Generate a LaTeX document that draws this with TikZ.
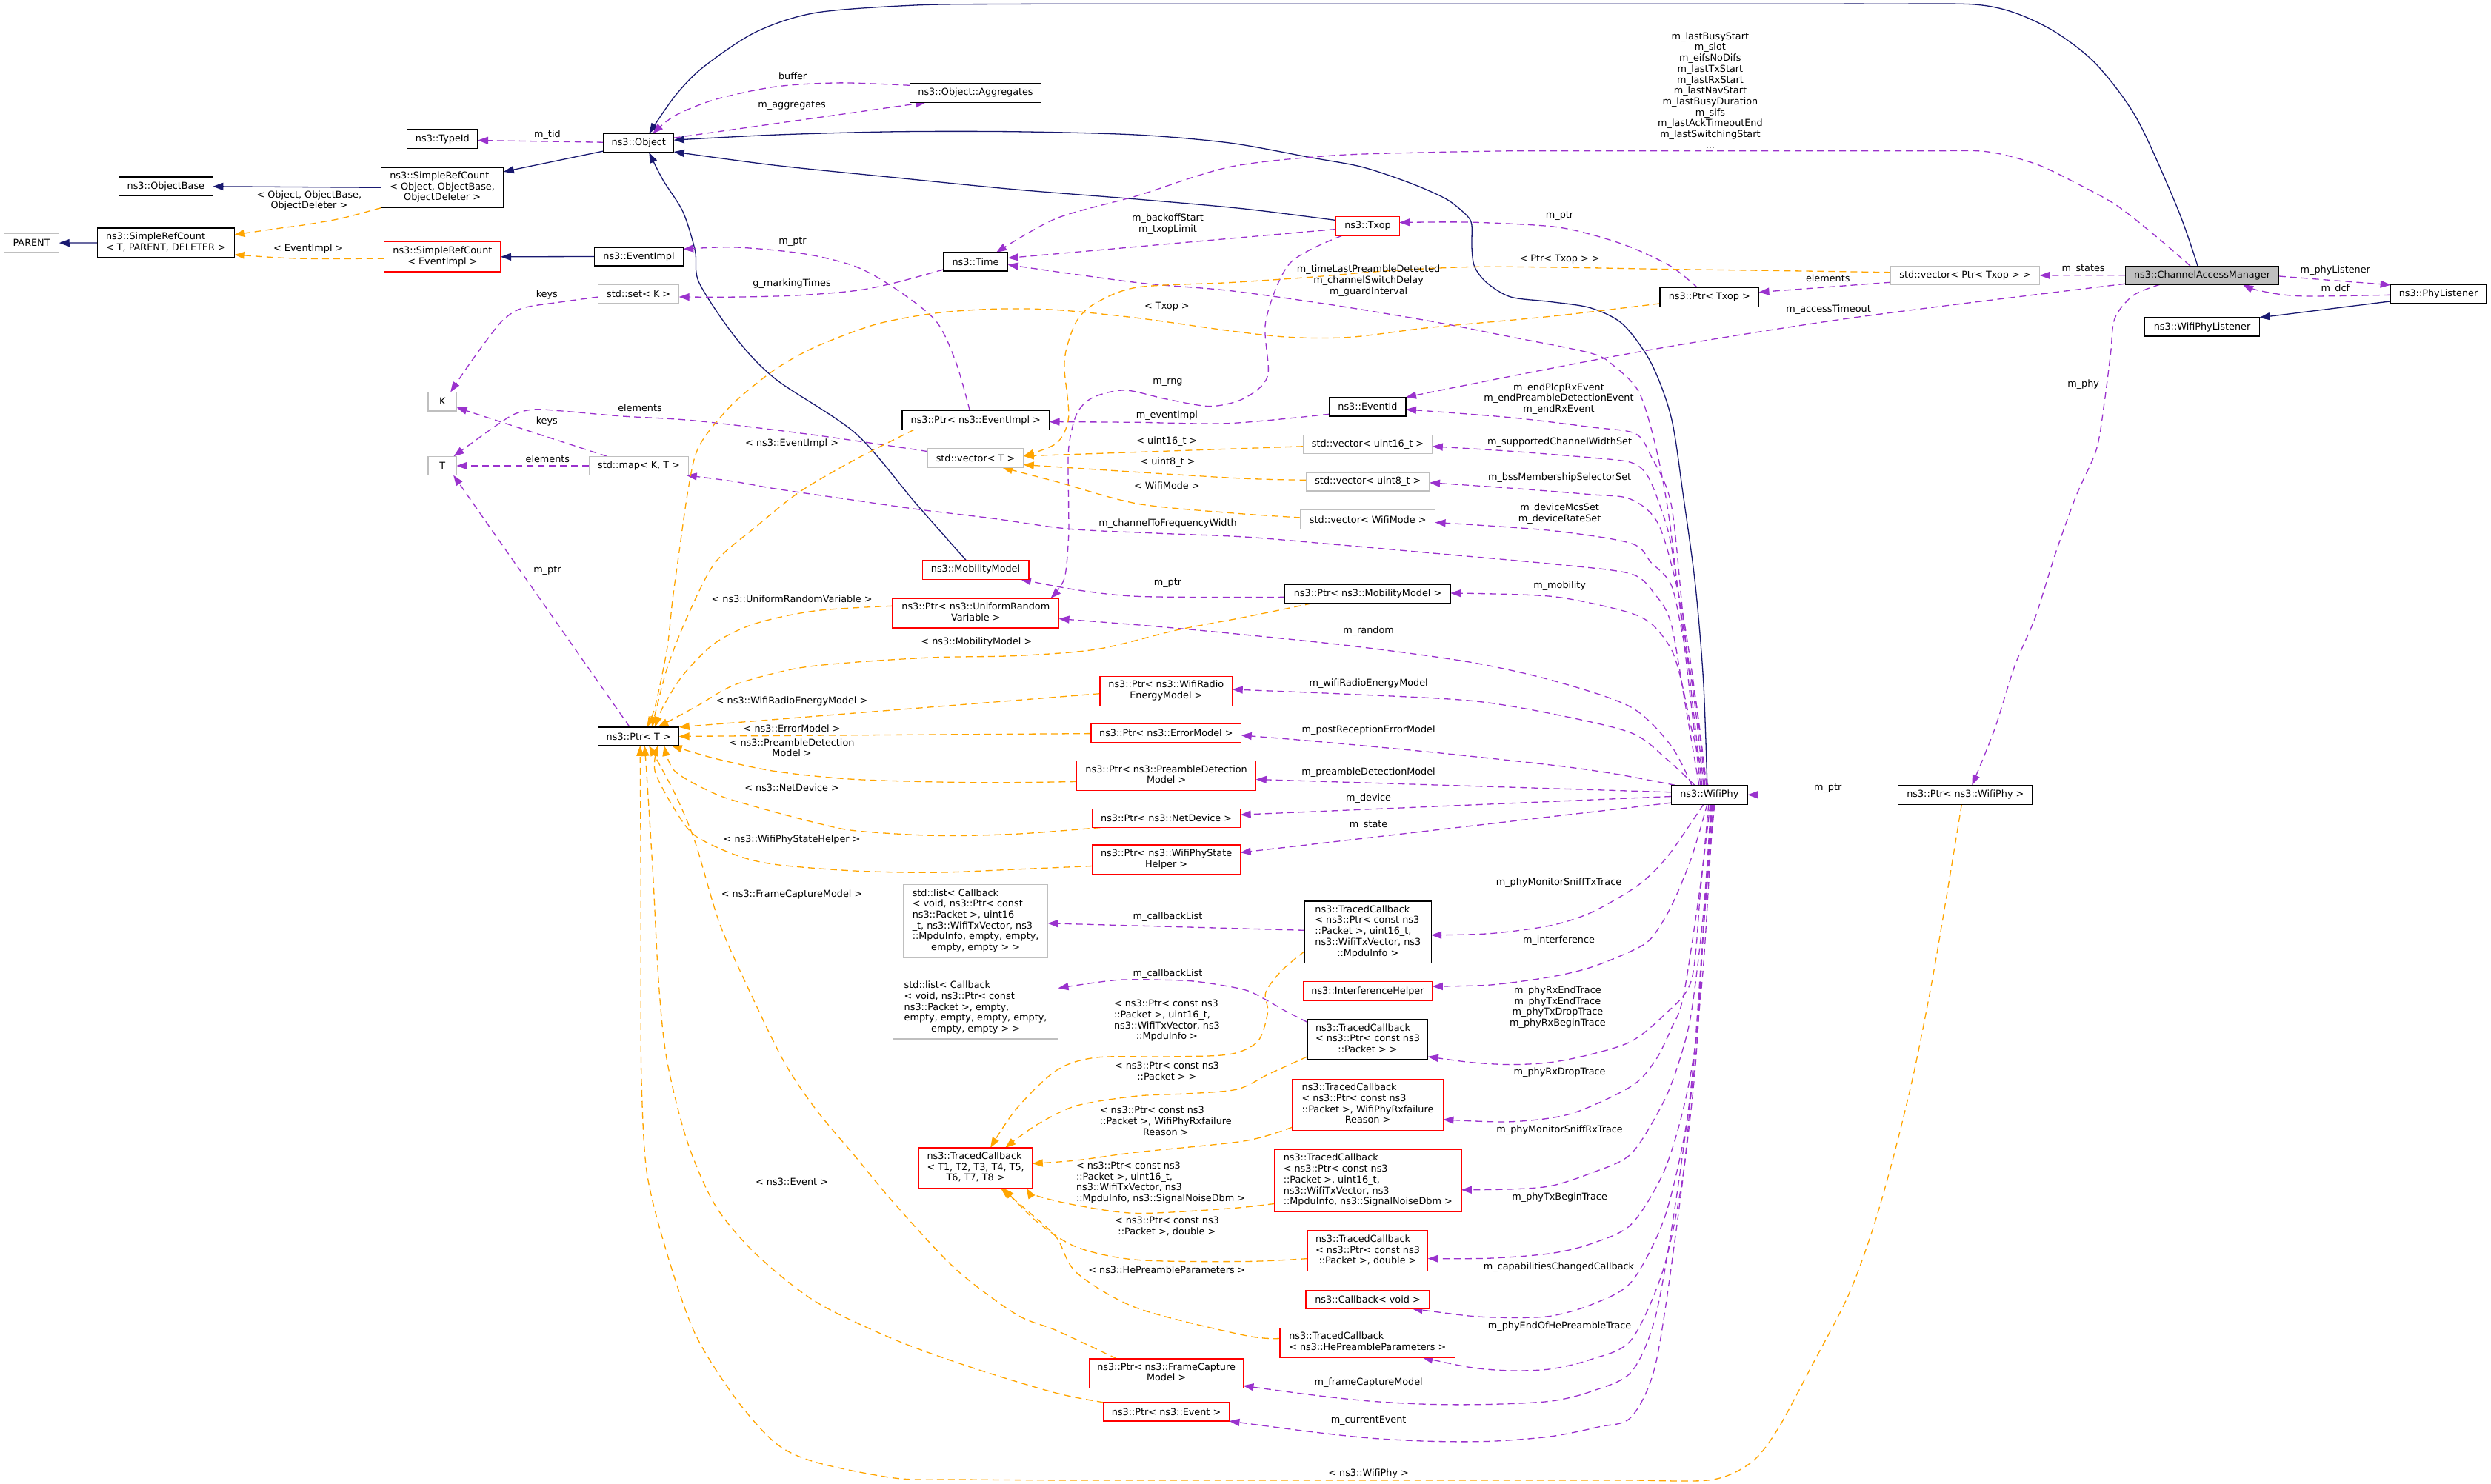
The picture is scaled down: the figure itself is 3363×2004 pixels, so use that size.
\documentclass[tikz,border=0pt]{standalone}
\usepackage{fontspec}
\setmainfont{DejaVu Sans}
\usetikzlibrary{arrows.meta,calc}
\pgfdeclarelayer{back}
\pgfdeclarelayer{edges}
\pgfsetlayers{back,edges,main}
\definecolor{inhc}{HTML}{191970}
\definecolor{usec}{HTML}{9A32CD}
\definecolor{tmplc}{HTML}{FFA500}
\definecolor{redc}{HTML}{FF0000}
\definecolor{grayc}{HTML}{BFBFBF}
\definecolor{camfill}{HTML}{BFBFBF}
\newcommand{\mlt}[1]{\begin{tabular}{@{}l@{}}#1\end{tabular}}
\newcommand{\lastc}[1]{\multicolumn{1}{@{}c@{}}{#1}}
\tikzset{
  dg/.style={font=\fontsize{12.8}{14.7}\selectfont, inner sep=0pt, outer sep=0pt},
  bx/.style 2 args={dg, line width=1.3pt, fill=white, minimum width=#1pt, minimum height=#2pt},
  bk/.style={draw=black},
  rd/.style={draw=redc},
  gr/.style={draw=grayc},
  lbl/.style={dg, align=center},
  arrowtip/.style={-{Triangle[length=14pt,width=10pt]}},
  inhe/.style={draw=inhc, line width=1.3pt, arrowtip},
  usage/.style={draw=usec, line width=1.3pt, dash pattern=on 9pt off 6pt, arrowtip},
  tmpl/.style={draw=tmplc, line width=1.3pt, dash pattern=on 9pt off 6pt, arrowtip},
}
\begin{document}
\begin{tikzpicture}[x=1pt,y=-1pt]
\useasboundingbox (0,0) rectangle (3363,2004);
\begin{pgfonlayer}{back}
\fill[white] (0,0) rectangle (3363,2004);
\end{pgfonlayer}

% ---------------- nodes ----------------
\node[bx={74.3}{25.6}, gr] (parent) at (42.6,328.1) {PARENT};
\node[bx={185.4}{39.9}, bk] (srcT) at (223.9,327.9) {\mlt{ns3::SimpleRefCount\\\lastc{< T, PARENT, DELETER >}}};
\node[bx={126.8}{25.5}, bk] (objbase) at (223.9,251.8) {ns3::ObjectBase};
\node[bx={165.4}{54.7}, bk] (srcObj) at (597.1,253.3) {\mlt{ns3::SimpleRefCount\\< Object, ObjectBase,\\\lastc{ObjectDeleter >}}};
\node[bx={157.2}{40.3}, rd] (srcEv) at (597.4,346.8) {\mlt{ns3::SimpleRefCount\\\lastc{< EventImpl >}}};
\node[bx={95.4}{26}, bk] (typeid) at (597.4,187.8) {ns3::TypeId};
\node[bx={94.9}{25.6}, bk] (obj) at (862.3,193.2) {ns3::Object};
\node[bx={119.4}{25.2}, bk] (evimpl) at (862.5,346.5) {ns3::EventImpl};
\node[bx={109}{25.6}, gr] (setK) at (862.2,397) {std::set< K >};
\node[bx={38.5}{25.6}, gr] (K) at (597.2,542.3) {K};
\node[bx={38.5}{25.6}, gr] (T) at (597.2,629) {T};
\node[bx={134.4}{25.6}, gr] (mapKT) at (862.5,629) {std::map< K, T >};
\node[bx={109}{25.1}, bk] (ptrT) at (862.2,994.4) {ns3::Ptr< T >};
\node[bx={177.3}{26}, bk] (aggr) at (1317,125.3) {ns3::Object::Aggregates};
\node[bx={87.3}{25.1}, bk] (time) at (1317,353.5) {ns3::Time};
\node[bx={198.4}{25.6}, bk] (ptrEv) at (1317.3,567.5) {ns3::Ptr< ns3::EventImpl >};
\node[bx={129.5}{25.6}, gr] (vecT) at (1317,618.6) {std::vector< T >};
\node[bx={143.7}{26}, rd] (mob) at (1317,769.3) {ns3::MobilityModel};
\node[bx={224.5}{39.9}, rd] (ptrURV) at (1317.3,827.9) {\mlt{ns3::Ptr< ns3::UniformRandom\\\lastc{Variable >}}};
\node[bx={194.6}{98.9}, gr] (list1) at (1317.1,1243.8) {\mlt{std::list< Callback\\< void, ns3::Ptr< const\\ ns3::Packet >, uint16\\\_t, ns3::WifiTxVector, ns3\\::MpduInfo, empty, empty,\\\lastc{empty, empty > >}}};
\node[bx={222.8}{83.3}, gr] (list2) at (1317.1,1361.3) {\mlt{std::list< Callback\\< void, ns3::Ptr< const\\ ns3::Packet >, empty,\\ empty, empty, empty, empty,\\\lastc{empty, empty > >}}};
\node[bx={153.4}{54.7}, rd] (tcT) at (1317.1,1577.3) {\mlt{ns3::TracedCallback\\< T1, T2, T3, T4, T5,\\\lastc{T6, T7, T8 >}}};
\node[bx={178.9}{39.9}, rd] (ptrRad) at (1574.3,933.3) {\mlt{ns3::Ptr< ns3::WifiRadio\\\lastc{EnergyModel >}}};
\node[bx={202.8}{25.2}, rd] (ptrErr) at (1574.3,989.6) {ns3::Ptr< ns3::ErrorModel >};
\node[bx={242.4}{39.9}, rd] (ptrPre) at (1574.6,1047.7) {\mlt{ns3::Ptr< ns3::PreambleDetection\\\lastc{Model >}}};
\node[bx={200.1}{25.1}, rd] (ptrNet) at (1574.6,1105) {ns3::Ptr< ns3::NetDevice >};
\node[bx={200.1}{39.9}, rd] (ptrSH) at (1574.6,1160.9) {\mlt{ns3::Ptr< ns3::WifiPhyState\\\lastc{Helper >}}};
\node[bx={207.6}{39.4}, rd] (ptrFC) at (1574.6,1854.6) {\mlt{ns3::Ptr< ns3::FrameCapture\\\lastc{Model >}}};
\node[bx={169.7}{25.2}, rd] (ptrEvent) at (1574.6,1906.4) {ns3::Ptr< ns3::Event >};
\node[bx={85.6}{25.6}, rd] (txop) at (1846.5,305.5) {ns3::Txop};
\node[bx={103}{25.6}, bk] (eventid) at (1846.5,549.2) {ns3::EventId};
\node[bx={174.6}{25.2}, gr] (vec16) at (1846.5,600.2) {std::vector< uint16\_t >};
\node[bx={166.5}{25.2}, gr] (vec8) at (1846.8,650.5) {std::vector< uint8\_t >};
\node[bx={181.6}{25.6}, gr] (vecMode) at (1846.7,701.4) {std::vector< WifiMode >};
\node[bx={223.4}{25.1}, bk] (ptrMob) at (1846.5,802.3) {ns3::Ptr< ns3::MobilityModel >};
\node[bx={170.7}{83.7}, bk] (tcSTx) at (1846.8,1258.7) {\mlt{ns3::TracedCallback\\< ns3::Ptr< const ns3\\::Packet >, uint16\_t,\\ ns3::WifiTxVector, ns3\\\lastc{::MpduInfo >}}};
\node[bx={174.6}{25.6}, rd] (interf) at (1846.5,1338.5) {ns3::InterferenceHelper};
\node[bx={162.6}{54.2}, bk] (tcPkt) at (1846.5,1404) {\mlt{ns3::TracedCallback\\< ns3::Ptr< const ns3\\\lastc{::Packet > >}}};
\node[bx={203.8}{68.5}, rd] (tcRxF) at (1846.5,1491.9) {\mlt{ns3::TracedCallback\\< ns3::Ptr< const ns3\\::Packet >, WifiPhyRxfailure\\\lastc{Reason >}}};
\node[bx={252.1}{83.7}, rd] (tcSRx) at (1846.8,1594.4) {\mlt{ns3::TracedCallback\\< ns3::Ptr< const ns3\\::Packet >, uint16\_t,\\ ns3::WifiTxVector, ns3\\\lastc{::MpduInfo, ns3::SignalNoiseDbm >}}};
\node[bx={162.6}{54.7}, rd] (tcDbl) at (1846.5,1689.2) {\mlt{ns3::TracedCallback\\< ns3::Ptr< const ns3\\\lastc{::Packet >, double >}}};
\node[bx={167}{25.1}, rd] (cbVoid) at (1846.5,1754.7) {ns3::Callback< void >};
\node[bx={236.9}{39.9}, rd] (tcHe) at (1846.3,1813.2) {\mlt{ns3::TracedCallback\\\lastc{< ns3::HePreambleParameters >}}};
\node[bx={133.4}{25.6}, bk] (ptrTxop) at (2307.8,401.4) {ns3::Ptr< Txop >};
\node[bx={103}{26}, bk] (wifiphy) at (2307.8,1073.3) {ns3::WifiPhy};
\node[bx={201.4}{24.7}, gr] (vecPTxop) at (2653,371.9) {std::vector< Ptr< Txop > >};
\node[bx={181.1}{26}, bk] (ptrWifiPhy) at (2653.3,1073.3) {ns3::Ptr< ns3::WifiPhy >};
\node[bx={207.5}{25.1}, bk, fill=camfill] (cam) at (2973,371.7) {ns3::ChannelAccessManager};
\node[bx={128.8}{25.1}, bk] (phyL) at (3292,397.3) {ns3::PhyListener};
\node[bx={154.7}{25.2}, bk] (wphyL) at (2973,441.5) {ns3::WifiPhyListener};

% ---------------- edges ----------------
\begin{pgfonlayer}{edges}
% inheritance
\draw[inhe] (srcObj.west) -- (objbase.east);
\draw[inhe] (srcT.west) -- (parent.east);
\draw[inhe] ($(obj.south west)+(0,-2)$) -- ($(srcObj.north east)+(0,6)$);
\draw[inhe] (evimpl.west) -- (srcEv.east);
\draw[inhe] plot[smooth] coordinates {($(cam.north)+(-6,0)$) (2940,282) (2885,160.5) (2830,86.7) (2775,43.4) (2720,17.3) (2665,6) (2550,5.2) (2400,5.2) (2250,5.2) (2100,5.2) (1950,5.2) (1800,5.2) (1650,5.2) (1500,5.2) (1360,5.5) (1236,7) (1101,17.3) (1020,43.4) (949,91) (911,130) ($(obj.north)+(14,0)$)};
\draw[inhe] plot[smooth] coordinates {($(txop.west)+(0,-8)$) (1680,282) (1534.7,269) (1372,256) (1210,240) (1046.8,223.3) ($(obj.south east)+(0,-1)$)};
\draw[inhe] plot[smooth] coordinates {($(wifiphy.north)+(-3,0)$) (2299.7,920) (2288.8,790) (2272.6,670) (2256.3,564) (2229,490) (2191,438) (2148,416) (2094,407.6) (2039.5,401) (2007,381.6) (1990.7,360) (1987,334) (1986.9,303.6) (1979.8,290.6) (1952.7,268.9) (1903.9,247.2) (1838.9,225.5) (1768.4,212.5) (1660,193) (1534.7,182.1) (1372,177.8) (1209.5,177.8) (1046.8,182.1) ($(obj.east)+(0,-4)$)};
\draw[inhe] plot[smooth] coordinates {($(mob.north)+(-13,0)$) (1236.6,680) (1155.3,585.4) (1046.8,511.7) (992.6,455.3) (943.8,381.6) (938.4,338.3) (922,286) (895,243) ($(obj.south)+(14,0)$)};
\draw[inhe] ($(phyL.south west)+(0,-3)$) -- (wphyL.north east);

% usage
\draw[usage] ($(obj.west)+(0,-1)$) -- ($(typeid.east)+(0,1.7)$);
\draw[usage] plot[smooth] coordinates {($(aggr.west)+(0,-10)$) (1133.6,111.9) (1046.8,117.1) (965.5,134.4) (911.3,156.1) ($(obj.north)+(19,0)$)};
\draw[usage] ($(obj.east)+(0,-7)$) -- ($(aggr.south)+(-67,0)$);
\draw[usage] plot[smooth] coordinates {($(ptrEv.north)+(-8,0)$) (1290.8,490) (1263.7,433.7) (1209.5,390.3) (1155.3,360) (1084.8,342.6) (992.6,333.9) ($(evimpl.east)+(0,-10)$)};
\draw[usage] plot[smooth] coordinates {($(time.south west)+(0,-2)$) (1209.5,381.6) (1155.3,392.5) (1073.9,399) (992.6,401.1) ($(setK.east)+(0,4)$)};
\draw[usage] plot[smooth] coordinates {($(setK.west)+(0,4)$) (758.9,407.6) (704.7,416.3) (677.6,433.7) (650.5,468.4) (628.8,498.7) ($(K.north)+(11,0)$)};
\draw[usage] ($(mapKT.north west)+(24,0)$) -- ($(K.east)+(0,8)$);
\draw[usage] (mapKT.west) -- (T.east);
\draw[usage] plot[smooth] coordinates {($(vecT.west)+(0,-9)$) (1101,587.6) (938.4,568.1) (840,562) (759,555) (721,552.9) (694,559.4) (666.8,576.8) (639.7,596.3) ($(T.north east)+(-4,0)$)};
\draw[usage] ($(ptrT.north)+(-12,0)$) -- ($(T.south)+(15,0)$);
\draw[usage] ($(txop.west)+(0,4)$) -- ($(time.east)+(0,-5)$);
\draw[usage] plot[smooth] coordinates {($(txop.south west)+(8,0)$) (1741.3,355.6) (1708.8,433.7) (1711.5,507.4) (1680,537.7) (1634,548.6) (1575,539) (1518.5,526.9) (1475,537) (1453.4,559.4) (1442.6,607) (1442.6,680) (1442.6,725) (1437,781) ($(ptrURV.north east)+(-11,0)$)};
\draw[usage] plot[smooth] coordinates {($(cam.north)+(-16,0)$) (2912.8,320.9) (2857.8,277.5) (2802.7,247.2) (2747.7,221.2) (2681.6,204.7) (2600,203.8) (2450,203.8) (2300,203.8) (2150,203.8) (2039.5,203.8) (1920,206) (1795.5,210.3) (1660,225.5) (1534.7,264.5) (1426.3,294.9) ($(time.north)+(28,0)$)};
\draw[usage] plot[smooth] coordinates {($(wifiphy.north)+(-12,0)$) (2283,950) (2268,820) (2252,690) (2234.6,600) (2212.9,530) (2180,495) (2148,477) (2040,455) (1931,433.7) (1800,412) (1660,392.5) (1534.7,381.6) ($(time.east)+(0,4)$)};
\draw[usage] plot[smooth] coordinates {($(wifiphy.north)+(-10,0)$) (2285,950) (2272,830) (2256,680) (2229,616) (2207.5,585.4) (2148,576.8) (2039.5,563.8) ($(eventid.east)+(0,3.7)$)};
\draw[usage] plot[smooth] coordinates {($(wifiphy.north)+(-8,0)$) (2288,950) (2270,830) (2255,730) (2240,680) (2223.8,641.8) (2202,624.5) (2148,618) (2039.5,609.3) ($(vec16.east)+(0,2.6)$)};
\draw[usage] plot[smooth] coordinates {($(wifiphy.north)+(-6,0)$) (2290,950) (2270,820) (2240,710) (2202,674.3) (2148,667.8) (2039.5,659.2) ($(vec8.east)+(0,1.3)$)};
\draw[usage] plot[smooth] coordinates {($(wifiphy.north)+(-4,0)$) (2290,950) (2272,860) (2256.3,790.1) (2229.2,759.7) (2202,733.7) (2093.7,716.4) ($(vecMode.east)+(0,4.1)$)};
\draw[usage] plot[smooth] coordinates {($(wifiphy.north)+(-2,0)$) (2285,990) (2270,920) (2256.3,876.8) (2229.2,842.1) (2191.2,824.8) (2093.7,805.3) ($(ptrMob.east)+(0,-1.3)$)};
\draw[usage] plot[smooth] coordinates {($(wifiphy.north)+(-14,0)$) (2275,950) (2256,842) (2234.6,803) (2202,775) (2100,762) (1931,746.7) (1800,735) (1680,725) (1560,720) (1442.6,714.2) (1340,700) (1242,688.2) (1150,675) (1046.8,660) (990,650) ($(mapKT.south east)+(-3,0)$)};
\draw[usage] plot[smooth] coordinates {($(wifiphy.north)+(-24,0)$) (2256,1007) (2202,955) (2100,920) (1985,894.2) (1822.6,872) (1660,855.1) (1550,845) ($(ptrURV.east)+(0,7.7)$)};
\draw[usage] plot[smooth] coordinates {($(wifiphy.north)+(-20,0)$) (2250,1025) (2202,989.6) (2093.7,963.6) (1985.3,946.2) (1822.6,937.5) ($(ptrRad.east)+(0,-2.3)$)};
\draw[usage] plot[smooth] coordinates {($(wifiphy.north west)+(5,0)$) (2180,1045) (2093.7,1033) (1931,1015.6) (1768.4,1000.4) ($(ptrErr.east)+(0,3.4)$)};
\draw[usage] ($(wifiphy.west)+(0,-3.5)$) -- ($(ptrPre.east)+(0,4.8)$);
\draw[usage] ($(wifiphy.west)+(0,2.2)$) -- ($(ptrNet.east)+(0,-4.8)$);
\draw[usage] ($(wifiphy.south west)+(0,-2.2)$) -- ($(ptrSH.east)+(0,-9.6)$);
\draw[usage] plot[smooth] coordinates {($(wifiphy.south)+(-8,0)$) (2256.3,1150) (2229.2,1180.4) (2202,1202) (2147.9,1232.4) (2093.7,1249.8) (2012.4,1260.6) ($(tcSTx.east)+(0,4.1)$)};
\draw[usage] plot[smooth] coordinates {($(wifiphy.south)+(-3,0)$) (2283.4,1158.7) (2256.3,1223.8) (2229.2,1267.1) (2202,1284.5) (2148,1306.2) (2093.7,1319.2) (2012.4,1330) ($(interf.east)+(0,-6.5)$)};
\draw[usage] plot[smooth] coordinates {($(wifiphy.south)+(-1,0)$) (2296,1200) (2283.4,1324) (2245.5,1371.7) (2202,1406.4) (2148,1423.7) (2093.7,1434.6) (2039.5,1437.6) (1985.3,1434.6) ($(tcPkt.south east)+(0,-4.3)$)};
\draw[usage] plot[smooth] coordinates {($(wifiphy.south)+(1,0)$) (2295,1200) (2272.6,1345.7) (2256.3,1389) (2234.6,1432.4) (2202,1467.1) (2120.8,1504) (2039.5,1514.8) ($(tcRxF.east)+(0,19.9)$)};
\draw[usage] plot[smooth] coordinates {($(wifiphy.south)+(2,0)$) (2300,1230) (2283.4,1367.4) (2267.2,1432.4) (2245.5,1488.8) (2202,1558.2) (2147.9,1584.2) (2093.7,1601.5) (2039.5,1605.9) ($(tcSRx.east)+(0,12.4)$)};
\draw[usage] plot[smooth] coordinates {($(wifiphy.south)+(3,0)$) (2300,1250) (2290,1400) (2272.6,1497.5) (2245.5,1584.2) (2202,1653.6) (2147.9,1679.6) (2093.7,1692.6) (2012.4,1699.1) ($(tcDbl.east)+(0,10.4)$)};
\draw[usage] plot[smooth] coordinates {($(wifiphy.south)+(4,0)$) (2300,1250) (2290,1420) (2272.6,1540.8) (2245.5,1649.2) (2202,1731.6) (2147.9,1762) (2093.7,1777.2) (2039.5,1779.4) (1985.3,1777.2) ($(cbVoid.south)+(60,0)$)};
\draw[usage] plot[smooth] coordinates {($(wifiphy.south)+(5,0)$) (2300,1300) (2285,1450) (2272.6,1584.2) (2245.5,1714.3) (2202,1809.7) (2147.9,1835.7) (2093.7,1848.7) (2039.5,1850.9) (1985.3,1846.6) ($(tcHe.south)+(74,0)$)};
\draw[usage] plot[smooth] coordinates {($(wifiphy.south)+(6,0)$) (2300,1250) (2285,1450) (2261.7,1627.6) (2234.6,1779.4) (2202,1853.1) (2147.9,1879.1) (2093.7,1892.1) (2012.4,1896.4) (1931,1896.4) (1849.7,1892.1) (1768.4,1883.4) ($(ptrFC.east)+(0,16.7)$)};
\draw[usage] plot[smooth] coordinates {($(wifiphy.south)+(7,0)$) (2300,1250) (2288,1450) (2261.7,1670.9) (2234.6,1844.4) (2202,1913.8) (2158.7,1926.8) (2093.7,1939.8) (2012.4,1946.3) (1931,1946.3) (1849.7,1942) (1768.4,1933.3) (ptrEvent.south east)};
\draw[usage] (ptrWifiPhy.west) -- (wifiphy.east);
\draw[usage] plot[smooth] coordinates {($(ptrMob.west)+(0,4)$) (1680,806.6) (1534.7,805.3) (1453.4,796.6) ($(mob.south east)+(-11,0)$)};
\draw[usage] plot[smooth] coordinates {($(eventid.west)+(0,10)$) (1660,571.6) (1534.7,570.3) ($(ptrEv.east)+(0,2)$)};
\draw[usage] plot[smooth] coordinates {($(ptrTxop.north)+(-16,0)$) (2256.3,360) (2202,334) (2147.9,316.6) (2093.7,305.7) (1985.3,300.1) ($(txop.east)+(0,-5)$)};
\draw[usage] ($(vecPTxop.south west)+(0,-3)$) -- ($(ptrTxop.east)+(0,-6.8)$);
\draw[usage] (cam.west) -- (vecPTxop.east);
\draw[usage] ($(cam.east)+(0,1.3)$) -- (phyL.north west);
\draw[usage] plot[smooth] coordinates {($(phyL.west)+(0,1)$) (3105.4,399.8) (3050.4,392.5) ($(cam.south)+(55,0)$)};
\draw[usage] plot[smooth] coordinates {($(cam.south west)+(0,-1)$) (2500,429.3) (2202,477) (eventid.north east)};
\draw[usage] plot[smooth] coordinates {($(cam.south)+(-57,0)$) (2879.8,399) (2855,430) (2849.5,477) (2841.2,542.1) (2830.2,607.1) (2802.7,670) (2775.2,746.7) (2747.7,833.5) (2720.2,898.5) (2692.6,985.3) ($(ptrWifiPhy.north)+(9,0)$)};
\draw[usage] ($(tcSTx.west)+(0,-2.4)$) -- ($(list1.east)+(0,3)$);
\draw[usage] plot[smooth] coordinates {($(tcPkt.north west)+(0,3.5)$) (1735,1365) (1708.8,1350) (1680,1336.5) (1620,1326) (1578,1323.5) (1507.6,1323.5) ($(list2.east)+(0,-26.9)$)};

% template
\draw[tmpl] plot[smooth] coordinates {(srcObj.south west) (460.8,294.9) (412,303.6) (379.5,307.9) ($(srcT.east)+(0,-11)$)};
\draw[tmpl] plot[smooth] coordinates {($(srcEv.west)+(0,2.3)$) (433.7,349.5) (379.5,348.2) ($(srcT.east)+(0,16)$)};
\draw[tmpl] plot[smooth] coordinates {($(vecPTxop.west)+(0,-4.2)$) (2400,365.5) (2250,363.5) (2100,361) (1985,360.5) (1870,366) (1760,375) (1660,381.6) (1534.7,388.1) (1478,410) (1453.4,433.7) (1440,470) (1437,498.7) (1442.6,563.8) (1426.3,598.5) ($(vecT.east)+(0,-3)$)};
\draw[tmpl] ($(vec16.west)+(0,2.6)$) -- ($(vecT.east)+(0,-2.8)$);
\draw[tmpl] plot[smooth] coordinates {($(vec8.west)+(0,-2.2)$) (1680,646.2) (1534.7,637.5) ($(vecT.east)+(0,9)$)};
\draw[tmpl] plot[smooth] coordinates {($(vecMode.west)+(0,-2.4)$) (1660,692.5) (1534.7,680) (1426.3,650.5) ($(vecT.south)+(36,0)$)};
\draw[tmpl] plot[smooth] coordinates {($(ptrTxop.west)+(0,8.5)$) (2093.7,427.2) (1931,442.3) (1822.6,455.4) (1741.3,455.4) (1660,446.7) (1534.7,429.3) (1426.3,418.5) (1345,417.2) (1263.7,422.8) (1182.4,438) (1101,468.4) (1046.8,498.7) (992.6,542.1) (954.7,585.4) (938.4,615.8) (927.6,670) (916.7,746.7) (908,810) (900.5,876.8) (884.2,954.9) ($(ptrT.north)+(11,0)$)};
\draw[tmpl] plot[smooth] coordinates {($(ptrEv.south west)+(15.8,0)$) (1155.3,620.1) (1079.4,664.3) (1019.7,712) (965.5,759.7) (927.6,833.5) (900.5,902.9) ($(ptrT.north)+(18,0)$)};
\draw[tmpl] plot[smooth] coordinates {($(ptrURV.west)+(0,-9.6)$) (1101,824.8) (1019.7,842.1) (965.5,868.2) (922.2,911.5) (895,954.9) ($(ptrT.north)+(22,0)$)};
\draw[tmpl] plot[smooth] coordinates {($(ptrMob.south west)+(36,0)$) (1680,833.5) (1589,850.8) (1480.5,876.8) (1372,885.5) (1263.7,887.7) (1155.3,894.2) (1073.9,902.9) (992.6,924.5) (938.4,954.9) ($(ptrT.north)+(26,0)$)};
\draw[tmpl] ($(ptrRad.west)+(0,3.4)$) -- (ptrT.north east);
\draw[tmpl] ($(ptrErr.west)+(0,1)$) -- (ptrT.east);
\draw[tmpl] plot[smooth] coordinates {($(ptrPre.west)+(0,7.8)$) (1317.9,1056.8) (1155.3,1052.5) (1046.8,1041.6) (965.5,1024.3) ($(ptrT.south east)+(-10,0)$)};
\draw[tmpl] plot[smooth] coordinates {($(ptrNet.south west)+(11,0)$) (1372,1126.2) (1263.7,1128.4) (1155.3,1121.9) (1101,1111) (1019.7,1089.3) (965.5,1072) (911.3,1041.6) ($(ptrT.south east)+(-20,0)$)};
\draw[tmpl] plot[smooth] coordinates {($(ptrSH.west)+(0,8.6)$) (1372,1173.9) (1263.7,1178.2) (1155.3,1176.1) (1046.8,1167.4) (992.6,1154.4) (938.4,1128.4) (911.3,1093.7) (884.2,1041.6) ($(ptrT.south)+(26,0)$)};
\draw[tmpl] plot[smooth] coordinates {($(ptrFC.north west)+(37,0)$) (1426.3,1796.7) (1372.1,1775) (1290.8,1714.3) (1209.5,1627.6) (1155.3,1562.5) (1101,1497.5) (1057.7,1432.4) (1008.9,1332) (970.9,1245.4) (938.4,1137) (911.3,1072) ($(ptrT.south)+(14,0)$)};
\draw[tmpl] plot[smooth] coordinates {(ptrEvent.north west) (1426.3,1881.3) (1317.9,1848.7) (1209.5,1809.7) (1101,1757.7) (1019.7,1692.6) (965.5,1627.6) (927.6,1540.8) (900.5,1432.4) (889.6,1332) (881.5,1180.4) (873.4,1050.3) ($(ptrT.south)+(8,0)$)};
\draw[tmpl] plot[smooth] coordinates {($(ptrWifiPhy.south)+(-5,0)$) (2628,1210) (2607.3,1330.5) (2582.6,1454.1) (2555,1566.9) (2527.5,1662.3) (2495,1750) (2446,1844.4) (2400,1930) (2364.7,1974.5) (2310.5,1998.4) (2200,1999) (2050,1999) (1900,1999) (1750,1999) (1600,1999) (1450,1999) (1300,1998) (1209.5,1996.2) (1101,1974.5) (1046.8,1948.5) (992.6,1887.8) (938.4,1801) (900.5,1692.6) (873.4,1584.2) (866,1460) (865.2,1324) (865.2,1180) ($(ptrT.south)+(2,0)$)};
\draw[tmpl] plot[smooth] coordinates {($(tcSTx.west)+(0,25.8)$) (1730.5,1310.5) (1708.8,1340) (1711.5,1367.4) (1698,1406.4) (1660,1423.7) (1580,1427) (1480.5,1428) (1426.3,1445.4) (1372,1497.5) ($(tcT.north)+(20,0)$)};
\draw[tmpl] plot[smooth] coordinates {($(tcPkt.west)+(0,22.8)$) (1714.2,1449.8) (1670,1471) (1600,1477) (1534.7,1480.1) (1453.4,1493.1) (1399.2,1519.2) ($(tcT.north)+(40,0)$)};
\draw[tmpl] plot[smooth] coordinates {($(tcRxF.south west)+(0,-4)$) (1680,1540.8) (1534.7,1556) (1453.4,1566.9) ($(tcT.east)+(0,-6)$)};
\draw[tmpl] plot[smooth] coordinates {($(tcSRx.west)+(0,31)$) (1660,1631.9) (1534.7,1638.4) (1453.4,1627.6) (1399.2,1614.6) ($(tcT.south east)+(-8,0)$)};
\draw[tmpl] plot[smooth] coordinates {($(tcDbl.west)+(0,10.4)$) (1680,1703.5) (1534.7,1701.3) (1453.4,1684) (1399.2,1649.2) ($(tcT.south)+(38,0)$)};
\draw[tmpl] plot[smooth] coordinates {($(tcHe.west)+(0,-5.7)$) (1680,1803.2) (1534.7,1766.3) (1453.4,1718.6) (1426.3,1671) (1388.4,1636.2) ($(tcT.south)+(34,0)$)};
\end{pgfonlayer}

% ---------------- labels ----------------
\node[lbl] (l01) at (738.9,182.1) {m\_tid};
\node[lbl] (l02) at (417.4,271.7) {\mlt{< Object, ObjectBase,\\\lastc{ObjectDeleter >}}};
\node[lbl] (l03) at (416.3,336.1) {< EventImpl >};
\node[lbl] (l04) at (738.3,398.1) {keys};
\node[lbl] (l05) at (738.3,568.5) {keys};
\node[lbl] (l06) at (739.4,620.1) {elements};
\node[lbl] (l07) at (864,550.8) {elements};
\node[lbl] (l08) at (738.9,771.0) {m\_ptr};
\node[lbl] (l09) at (1070.1,103.2) {buffer};
\node[lbl] (l10) at (1069.1,142.7) {m\_aggregates};
\node[lbl] (l11) at (1070.1,326.6) {m\_ptr};
\node[lbl] (l12) at (1069.1,383.4) {g\_markingTimes};
\node[lbl] (l13) at (1576.5,302.7) {m\_backoffStart\\m\_txopLimit};
\node[lbl] (l14) at (1575.4,414.6) {< Txop >};
\node[lbl] (l15) at (1576.5,516.1) {m\_rng};
\node[lbl] (l16) at (1575.4,560.7) {m\_eventImpl};
\node[lbl] (l17) at (1069.1,598.5) {< ns3::EventImpl >};
\node[lbl] (l18) at (1575.4,596.3) {< uint16\_t >};
\node[lbl] (l19) at (1576.5,624.5) {< uint8\_t >};
\node[lbl] (l20) at (1575.4,656.1) {< WifiMode >};
\node[lbl] (l21) at (2308.9,121.9) {m\_lastBusyStart\\m\_slot\\m\_eifsNoDifs\\m\_lastTxStart\\m\_lastRxStart\\m\_lastNavStart\\m\_lastBusyDuration\\m\_sifs\\m\_lastAckTimeoutEnd\\m\_lastSwitchingStart\\...};
\node[lbl] (l22) at (2105.6,291.9) {m\_ptr};
\node[lbl] (l23) at (2105.6,350.4) {< Ptr< Txop > >};
\node[lbl] (l24) at (1847.6,379.3) {m\_timeLastPreambleDetected\\m\_channelSwitchDelay\\m\_guardInterval};
\node[lbl] (l25) at (2467.7,375.6) {elements};
\node[lbl] (l26) at (2468.6,418.5) {m\_accessTimeout};
\node[lbl] (l27) at (2104.5,538.4) {m\_endPlcpRxEvent\\m\_endPreambleDetectionEvent\\m\_endRxEvent};
\node[lbl] (l28) at (2105.6,596.7) {m\_supportedChannelWidthSet};
\node[lbl] (l29) at (2105.6,644.9) {m\_bssMembershipSelectorSet};
\node[lbl] (l30) at (2812.6,363.8) {m\_states};
\node[lbl] (l31) at (3152.8,364.7) {m\_phyListener};
\node[lbl] (l32) at (3152.8,390.3) {m\_dcf};
\node[lbl] (l33) at (2812.6,519.5) {m\_phy};
\node[lbl] (l34) at (1576.5,707.3) {m\_channelToFrequencyWidth};
\node[lbl] (l35) at (1576.5,787.9) {m\_ptr};
\node[lbl] (l36) at (1069.1,808.3) {< ns3::UniformRandomVariable >};
\node[lbl] (l37) at (1318.4,867.3) {< ns3::MobilityModel >};
\node[lbl] (l38) at (1069.1,947.1) {< ns3::WifiRadioEnergyModel >};
\node[lbl] (l39) at (1069.1,984.0) {< ns3::ErrorModel >};
\node[lbl] (l40) at (1069.1,1011.7) {\mlt{< ns3::PreambleDetection\\\lastc{Model >}}};
\node[lbl] (l41) at (1069.1,1064.2) {< ns3::NetDevice >};
\node[lbl] (l42) at (1069.1,1134.4) {< ns3::WifiPhyStateHelper >};
\node[lbl] (l43) at (1069.1,1208.2) {< ns3::FrameCaptureModel >};
\node[lbl] (l44) at (1576.5,1238.1) {m\_callbackList};
\node[lbl] (l45) at (1576.5,1315.3) {m\_callbackList};
\node[lbl] (l46) at (2105.6,693.4) {m\_deviceMcsSet\\m\_deviceRateSet};
\node[lbl] (l47) at (2105.6,791) {m\_mobility};
\node[lbl] (l48) at (1847.6,852.1) {m\_random};
\node[lbl] (l49) at (1847.6,923.2) {m\_wifiRadioEnergyModel};
\node[lbl] (l50) at (1847.6,986.1) {m\_postReceptionErrorModel};
\node[lbl] (l51) at (1847.6,1043.4) {m\_preambleDetectionModel};
\node[lbl] (l52) at (1847.6,1078.1) {m\_device};
\node[lbl] (l53) at (1847.6,1114.5) {m\_state};
\node[lbl] (l54) at (2467.7,1064.6) {m\_ptr};
\node[lbl] (l55) at (2104.5,1192.1) {m\_phyMonitorSniffTxTrace};
\node[lbl] (l56) at (2104.5,1270.2) {m\_interference};
\node[lbl] (l57) at (1575.4,1378.7) {\mlt{< ns3::Ptr< const ns3\\::Packet >, uint16\_t,\\ ns3::WifiTxVector, ns3\\\lastc{::MpduInfo >}}};
\node[lbl] (l58) at (1575.4,1448.1) {\mlt{< ns3::Ptr< const ns3\\\lastc{::Packet > >}}};
\node[lbl] (l59) at (1573.8,1515.4) {\mlt{< ns3::Ptr< const ns3\\::Packet >, WifiPhyRxfailure\\\lastc{Reason >}}};
\node[lbl] (l60) at (1567,1597.4) {\mlt{< ns3::Ptr< const ns3\\::Packet >, uint16\_t,\\ ns3::WifiTxVector, ns3\\\lastc{::MpduInfo, ns3::SignalNoiseDbm >}}};
\node[lbl] (l61) at (1575.4,1657.3) {\mlt{< ns3::Ptr< const ns3\\\lastc{::Packet >, double >}}};
\node[lbl] (l62) at (1575.4,1714.3) {< ns3::HePreambleParameters >};
\node[lbl] (l63) at (1069.1,1596.3) {< ns3::Event >};
\node[lbl] (l64) at (2102.9,1360.2) {m\_phyRxEndTrace\\m\_phyTxEndTrace\\m\_phyTxDropTrace\\m\_phyRxBeginTrace};
\node[lbl] (l65) at (2105.6,1448.5) {m\_phyRxDropTrace};
\node[lbl] (l66) at (2105.6,1526.5) {m\_phyMonitorSniffRxTrace};
\node[lbl] (l67) at (2105.6,1616.7) {m\_phyTxBeginTrace};
\node[lbl] (l68) at (2104.5,1711.3) {m\_capabilitiesChangedCallback};
\node[lbl] (l69) at (2105.6,1791.1) {m\_phyEndOfHePreambleTrace};
\node[lbl] (l70) at (1847.6,1867.0) {m\_frameCaptureModel};
\node[lbl] (l71) at (1847.6,1918.1) {m\_currentEvent};
\node[lbl] (l72) at (1847.6,1989.7) {< ns3::WifiPhy >};
\end{tikzpicture}
\end{document}
